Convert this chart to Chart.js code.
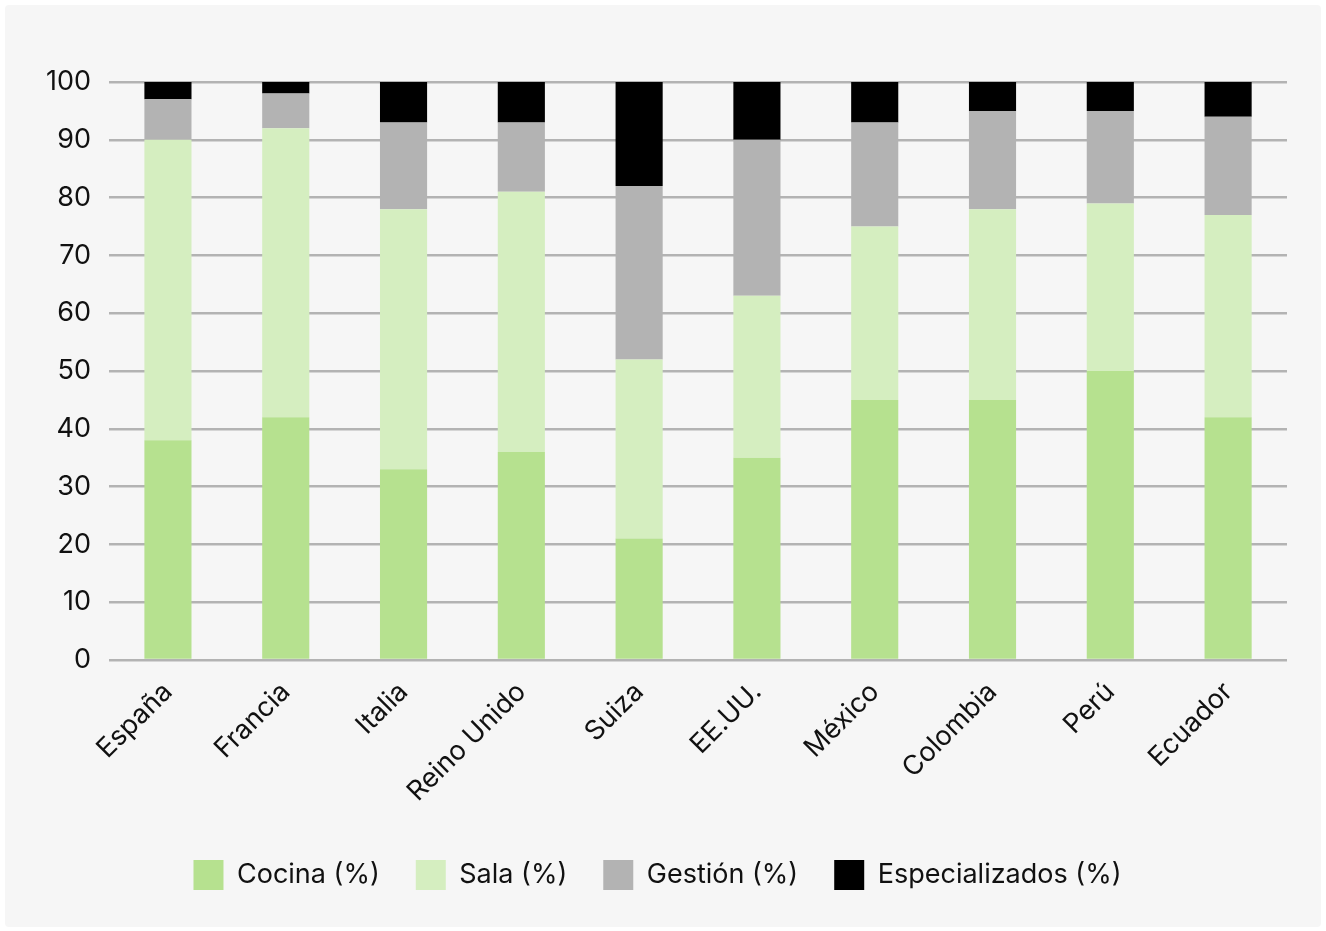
<!DOCTYPE html>
<html><head><meta charset="utf-8">
<script src="https://cdn.jsdelivr.net/npm/chart.js@4"></script>
<style>
html,body{margin:0;padding:0;background:#fff;}
#wrap{position:absolute;left:5px;top:5px;width:1316px;height:922px;background:#f6f6f6;border-radius:4px;}
</style></head>
<body><div id="wrap"><canvas id="c" width="1316" height="922"></canvas></div>
<script>
const categories = ["España","Francia","Italia","Reino Unido","Suiza","EE.UU.","México","Colombia","Perú","Ecuador"];
const cocina = [38, 42, 33, 36, 21, 35, 45, 45, 50, 42];
const sala = [52, 50, 45, 45, 31, 28, 30, 33, 29, 35];
const gestion = [7, 6, 15, 12, 30, 27, 18, 17, 16, 17];
const especializados = [3, 2, 7, 7, 18, 10, 7, 5, 5, 6];
const seriesNames = ["Cocina (%)","Sala (%)","Gestión (%)","Especializados (%)"];
const yTicks = [0,10,20,30,40,50,60,70,80,90,100];

const colors = ["#b6e18f","#d5eec0","#b3b3b3","#000000"];
const font = "Inter, 'Noto Sans', sans-serif";

new Chart(document.getElementById('c'), {
  type: 'bar',
  data: {
    labels: categories,
    datasets: [cocina, sala, gestion, especializados].map((d,i)=>({
      label: seriesNames[i], data: d, backgroundColor: colors[i],
      borderWidth: 0, barPercentage: 0.8, categoryPercentage: 0.5
    }))
  },
  options: {
    responsive: false, animation: false,
    layout: { padding: { left: 23, right: 34, top: 77, bottom: 27 } },
    plugins: {
      legend: {
        position: 'bottom',
        labels: { font: { family: font, size: 27 }, color: '#111', boxWidth: 30, boxHeight: 30, padding: 36 }
      },
      tooltip: { enabled: false }
    },
    scales: {
      x: {
        stacked: true,
        grid: { display: false, drawTicks: false },
        border: { display: false },
        ticks: { font: { family: font, size: 27 }, color: '#111', minRotation: 45, maxRotation: 45, padding: 16 }
      },
      y: {
        stacked: true, min: 0, max: 100,
        afterBuildTicks: (ax) => { ax.ticks = yTicks.map(v => ({ value: v })); },
        grid: { color: '#b3b3b3', lineWidth: 2.5, drawTicks: false },
        border: { display: false },
        ticks: { font: { family: font, size: 27 }, color: '#111', padding: 18 }
      }
    }
  }
});
</script></body></html>
